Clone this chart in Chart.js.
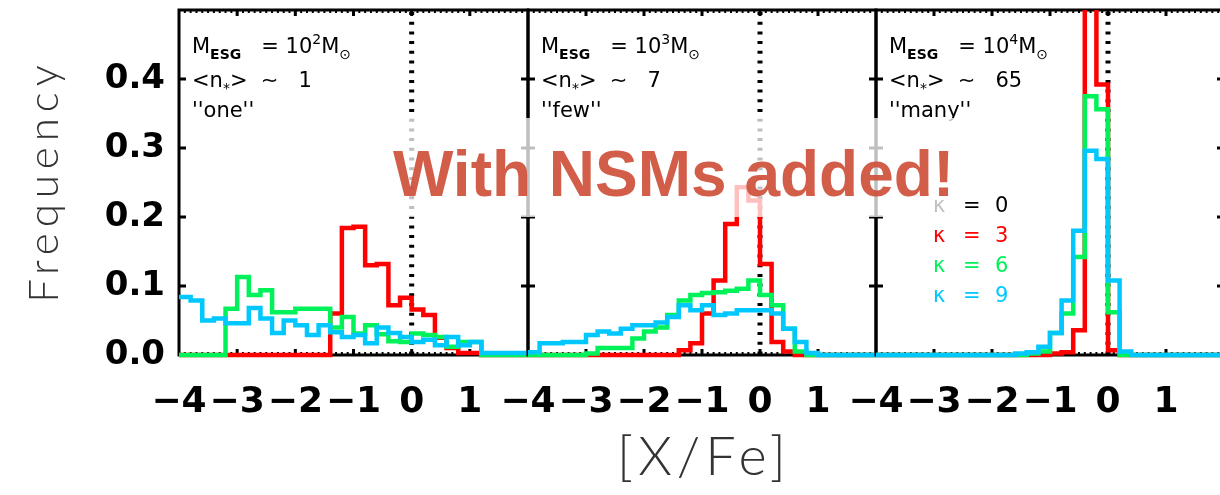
<!DOCTYPE html>
<html>
<head>
<meta charset="utf-8">
<title>[X/Fe] distributions by ESG mass</title>
<script src="https://cdn.jsdelivr.net/npm/chart.js@4.4.1/dist/chart.umd.min.js"></script>
<style>
html, body { margin: 0; padding: 0; background: #fff; }
#wrap { position: relative; width: 1220px; height: 495px; overflow: hidden; background: #fff; }
#wrap canvas { position: absolute; left: 0; top: 0; }
</style>
</head>
<body>
<div id="wrap">
  <canvas id="panel1" width="1220" height="495"></canvas>
  <canvas id="panel2" width="1220" height="495"></canvas>
  <canvas id="panel3" width="1230" height="495"></canvas>
</div>
<script>
// ---- data -------------------------------------------------------------
// histogram bin edges in [X/Fe] (0.2 dex bins)
const binEdges = [-4.0, -3.8, -3.6, -3.4, -3.2, -3.0, -2.8, -2.6, -2.4, -2.2,
                  -2.0, -1.8, -1.6, -1.4, -1.2, -1.0, -0.8, -0.6, -0.4, -0.2,
                   0.0,  0.2,  0.4,  0.6,  0.8,  1.0,  1.2,  1.4,  1.6,  1.8, 2.0];

const xTickLabels = ['\u22124', '\u22123', '\u22122', '\u22121', '0', '1', ''];
const yTickLabels = ['0.0', '0.1', '0.2', '0.3', '0.4', ''];

// M_ESG = 10^2 Msun, <n*> ~ 1, "one"
const oneK3 = [0, 0, 0, 0, 0, 0, 0, 0, 0, 0, 0, 0, 0, 0.06, 0.184, 0.186, 0.13, 0.132, 0.072, 0.083,
               0.066, 0.058, 0.025, 0.01, 0.003, 0.003, 0, 0, 0, 0];
const oneK6 = [0, 0, 0, 0, 0.067, 0.113, 0.087, 0.094, 0.062, 0.062, 0.067, 0.067, 0.067, 0.04, 0.055, 0.031, 0.043, 0.03, 0.02, 0.019,
               0.031, 0.029, 0.026, 0.012, 0.019, 0.019, 0, 0, 0, 0];
const oneK9 = [0.084, 0.079, 0.05, 0.053, 0.046, 0.046, 0.068, 0.053, 0.032, 0.05, 0.043, 0.029, 0.043, 0.033, 0.026, 0.029, 0.017, 0.04, 0.032, 0.026,
               0.019, 0.022, 0.014, 0.026, 0.014, 0.019, 0.003, 0.003, 0.003, 0.003];

// M_ESG = 10^3 Msun, <n*> ~ 7, "few"
const fewK3 = [0, 0, 0, 0, 0, 0, 0, 0, 0, 0, 0, 0, 0, 0.007, 0.017, 0.06, 0.108, 0.19, 0.243, 0.224,
               0.132, 0.019, 0.005, 0, 0, 0, 0, 0, 0, 0];
const fewK6 = [0, 0, 0, 0, 0, 0.002, 0.01, 0.01, 0.01, 0.024, 0.034, 0.04, 0.058, 0.079, 0.087, 0.09, 0.091, 0.093, 0.096, 0.108,
               0.087, 0.072, 0.038, 0.005, 0, 0, 0, 0, 0, 0];
const fewK9 = [0.004, 0.017, 0.017, 0.019, 0.019, 0.029, 0.034, 0.031, 0.038, 0.043, 0.043, 0.047, 0.055, 0.072, 0.065, 0.072, 0.058, 0.06, 0.065, 0.065,
               0.065, 0.06, 0.038, 0.019, 0.003, 0, 0, 0, 0, 0];

// M_ESG = 10^4 Msun, <n*> ~ 65, "many"
const manyK3 = [0, 0, 0, 0, 0, 0, 0, 0, 0, 0, 0, 0, 0, 0, 0, 0.002, 0.004, 0.036, 0.58, 0.392,
                0.007, 0, 0, 0, 0, 0, 0, 0, 0, 0];
const manyK6 = [0, 0, 0, 0, 0, 0, 0, 0, 0, 0, 0, 0, 0, 0.002, 0.005, 0.032, 0.06, 0.142, 0.375, 0.356,
                0.062, 0, 0, 0, 0, 0, 0, 0, 0, 0];
const manyK9 = [0, 0, 0, 0, 0, 0, 0, 0, 0, 0, 0, 0, 0.002, 0.004, 0.012, 0.032, 0.079, 0.18, 0.296, 0.284,
                0.108, 0.005, 0, 0, 0, 0, 0, 0, 0, 0];

// panel annotations
const esgMassExponent = ['2', '3', '4'];
const meanStarCount = ['1', '7', '65'];
const regimeName = ['one', 'few', 'many'];
const kappaLabels = ['0', '3', '6', '9'];

// ---- styling ------------------------------------------------------------
const RED = '#ff0000', GREEN = '#00f25a', CYAN = '#00c8ff';
const kappaColors = ['#000000', RED, GREEN, CYAN];
const panelEdges = [179, 528, 876, 1224];   // plot-area borders in page pixels
const TICK_FONT = '"DejaVu Sans", "Liberation Sans", sans-serif';
const LABEL_FONT = '"DejaVu Sans", sans-serif';
const THIN_FONT = 'Lato, "DejaVu Sans", sans-serif';

function steps(values) {
  const pts = values.map((v, i) => ({ x: binEdges[i], y: v }));
  pts.push({ x: binEdges[values.length], y: values[values.length - 1] });
  return pts;
}

// box, inward ticks and dotted [X/Fe] = 0 line, drawn under the histograms
const framePlugin = {
  id: 'frame',
  beforeDatasetsDraw(chart) {
    const { ctx, chartArea: a, scales: { x, y } } = chart;
    ctx.save();
    ctx.strokeStyle = '#000';
    const x0 = x.getPixelForValue(0);
    ctx.lineWidth = 5;
    ctx.setLineDash([3, 6.7]);
    ctx.beginPath(); ctx.moveTo(x0, a.top + 2); ctx.lineTo(x0, a.bottom); ctx.stroke();
    ctx.setLineDash([]);

    ctx.lineWidth = 3;
    ctx.strokeRect(a.left, a.top, a.right - a.left, a.bottom - a.top);

    // minor x ticks
    ctx.lineWidth = 2;
    ctx.beginPath();
    for (let k = 1; k < 60; k++) {
      const px = x.getPixelForValue(x.min + k * 0.1);
      ctx.moveTo(px, a.bottom); ctx.lineTo(px, a.bottom - 3);
      ctx.moveTo(px, a.top); ctx.lineTo(px, a.top + 3);
    }
    ctx.stroke();
    // major x ticks
    ctx.lineWidth = 3;
    ctx.beginPath();
    x.ticks.forEach(t => {
      if (t.value <= x.min || t.value >= x.max) return;
      const px = x.getPixelForValue(t.value);
      ctx.moveTo(px, a.bottom); ctx.lineTo(px, a.bottom - 6);
      ctx.moveTo(px, a.top); ctx.lineTo(px, a.top + 6);
    });
    // major y ticks
    y.ticks.forEach(t => {
      if (t.value <= y.min || t.value >= y.max - 1e-9) return;
      const py = y.getPixelForValue(t.value);
      ctx.moveTo(a.left, py); ctx.lineTo(a.left + 7, py);
      ctx.moveTo(a.right, py); ctx.lineTo(a.right - 7, py);
    });
    ctx.stroke();
    ctx.restore();
  }
};

function drawRich(ctx, x, y, parts, size) {
  for (const p of parts) {
    const s = (p.sub || p.sup) ? Math.round(size * 0.66) : size;
    ctx.font = `${p.weight || 400} ${s}px ${LABEL_FONT}`;
    const dy = p.sub ? size * 0.3 : (p.sup ? -size * 0.42 : 0);
    ctx.fillText(p.t, x, y + dy);
    x += ctx.measureText(p.t).width;
  }
}

function labelPlugin(idx) {
  return {
    id: 'panelLabel' + idx,
    afterDraw(chart) {
      const { ctx, chartArea: a } = chart;
      ctx.save();
      ctx.fillStyle = '#000';
      ctx.textBaseline = 'alphabetic';
      const lx = a.left + 13;
      drawRich(ctx, lx, 53, [
        { t: 'M' }, { t: 'ESG', sub: true, weight: 700 }, { t: '   = 10' },
        { t: esgMassExponent[idx], sup: true }, { t: 'M' }, { t: '\u2299', sub: true }
      ], 21);
      drawRich(ctx, lx, 87, [
        { t: '<n' }, { t: '*', sub: true }, { t: '>  \u223C   ' + meanStarCount[idx] }
      ], 21);
      drawRich(ctx, lx, 117, [{ t: "''" + regimeName[idx] + "''" }], 21);

      if (idx === 0) {
        // y-axis title
        ctx.save();
        ctx.translate(44, 184);
        ctx.rotate(-Math.PI / 2);
        ctx.font = `300 42px ${THIN_FONT}`;
        ctx.letterSpacing = '6px';
        ctx.textAlign = 'center';
        ctx.textBaseline = 'middle';
        ctx.fillStyle = '#333';
        ctx.fillText('Frequency', 3, 0);
        ctx.restore();
      }

      if (idx === 2) {
        // kappa key
        ctx.font = `400 21px ${LABEL_FONT}`;
        kappaLabels.forEach((k, i) => {
          const by = 212 + i * 30;
          ctx.fillStyle = kappaColors[i];
          ctx.fillText('\u03BA', a.left + 57, by);
          ctx.fillText('=', a.left + 87, by);
          ctx.fillText(k, a.left + 119, by);
        });

        // x-axis title, centred under the middle panel
        ctx.save();
        ctx.font = `300 54px ${THIN_FONT}`;
        ctx.letterSpacing = '5px';
        ctx.textAlign = 'center';
        ctx.textBaseline = 'middle';
        ctx.fillStyle = '#333';
        ctx.fillText('[X/Fe]', 704, 458);
        ctx.restore();

        // highlighted banner across the three panels
        ctx.fillStyle = 'rgba(255,255,255,0.75)';
        ctx.fillRect(388, 118, 570, 99);
        ctx.font = 'bold 64px "Liberation Sans", Arial, sans-serif';
        ctx.fillStyle = 'rgba(206,80,58,0.92)';
        ctx.textAlign = 'left';
        ctx.fillText('With NSMs added!', 393, 196);
      }
      ctx.restore();
    }
  };
}

function makePanel(canvasId, idx, k3, k6, k9) {
  const canvas = document.getElementById(canvasId);
  const left = panelEdges[idx], right = panelEdges[idx + 1];
  const first = idx === 0;
  const yWidth = first ? left : 0;
  return new Chart(canvas, {
    type: 'line',
    data: {
      datasets: [
        { label: '\u03BA = 3', data: steps(k3), borderColor: RED, order: 3 },
        { label: '\u03BA = 6', data: steps(k6), borderColor: GREEN, order: 2 },
        { label: '\u03BA = 9', data: steps(k9), borderColor: CYAN, order: 1 }
      ]
    },
    options: {
      responsive: false,
      animation: false,
      events: [],
      layout: { padding: { left: first ? 0 : left, right: canvas.width - right, top: 10, bottom: 0 } },
      plugins: { legend: { display: false }, tooltip: { enabled: false } },
      elements: {
        point: { radius: 0 },
        line: { borderWidth: 4.5, tension: 0, stepped: 'before', fill: false,
                borderJoinStyle: 'miter', borderCapStyle: 'butt' }
      },
      datasets: { line: { clip: { left: 0, top: 0, right: 0, bottom: 3 } } },
      scales: {
        x: {
          type: 'linear', position: 'bottom', min: -4, max: 2,
          afterFit: s => { s.height = 140; s.paddingLeft = 0; s.paddingRight = 0; },
          grid: { display: false, drawTicks: false },
          border: { display: false },
          ticks: {
            stepSize: 1, autoSkip: false, maxRotation: 0, minRotation: 0, padding: 26,
            color: '#000', font: { family: TICK_FONT, weight: 'bold', size: 36 },
            callback: (v, i) => xTickLabels[i]
          }
        },
        y: {
          type: 'linear', position: 'left', min: 0, max: 0.5,
          afterFit: s => { s.width = yWidth; s.paddingTop = 0; s.paddingBottom = 0; },
          grid: { display: false, drawTicks: false },
          border: { display: false },
          ticks: {
            display: first, stepSize: 0.1, autoSkip: false, padding: 14,
            color: '#000', font: { family: TICK_FONT, weight: 'bold', size: 34 },
            callback: (v, i) => yTickLabels[i]
          }
        }
      }
    },
    plugins: [framePlugin, labelPlugin(idx)]
  });
}

makePanel('panel1', 0, oneK3, oneK6, oneK9);
makePanel('panel2', 1, fewK3, fewK6, fewK9);
makePanel('panel3', 2, manyK3, manyK6, manyK9);
</script>
</body>
</html>
